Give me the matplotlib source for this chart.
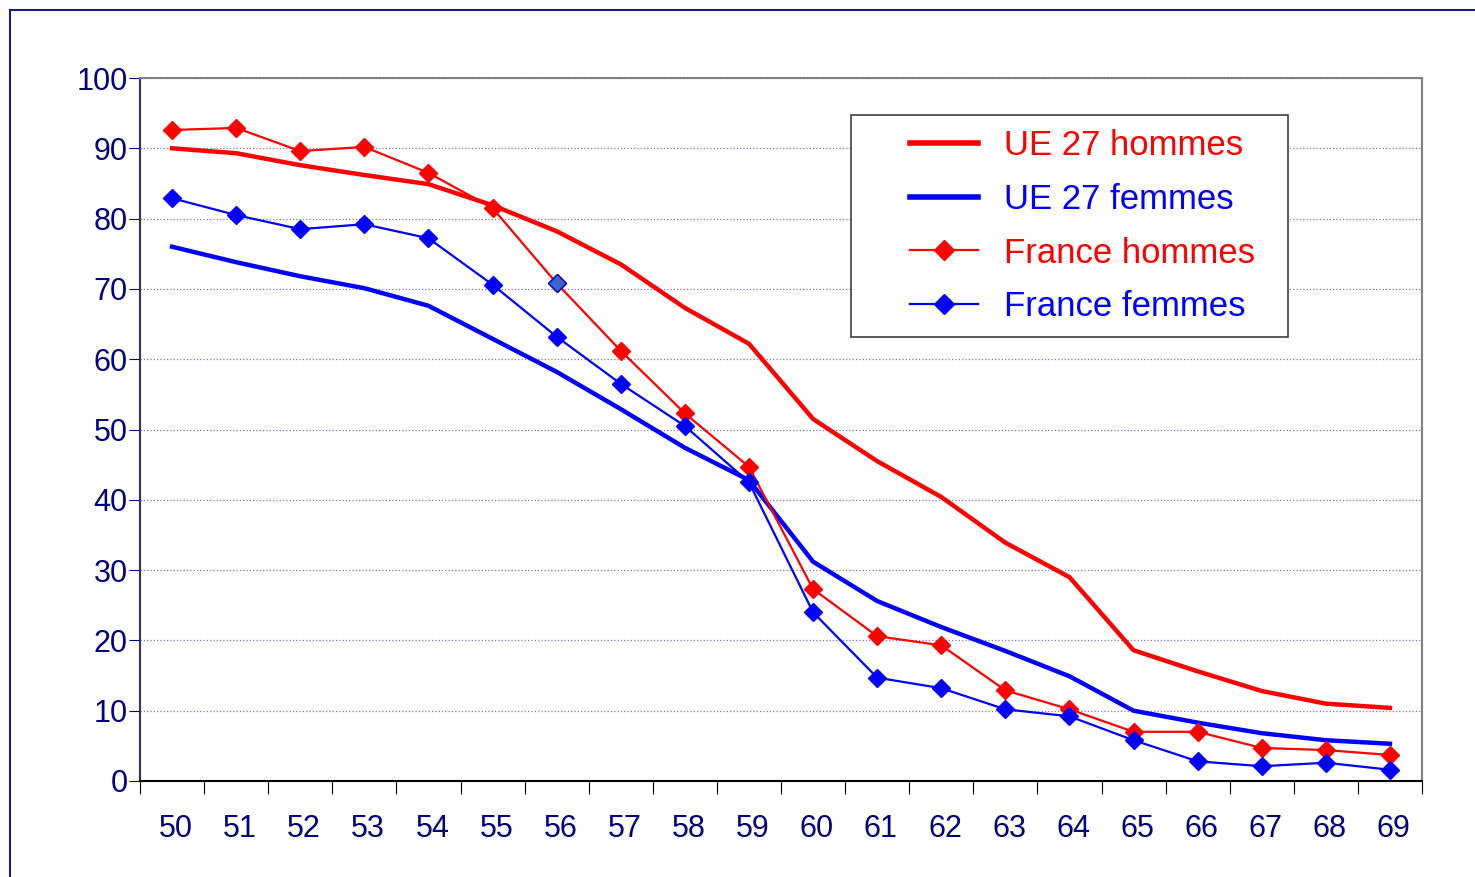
import matplotlib
matplotlib.use('Agg')
import matplotlib.pyplot as plt
from matplotlib.patches import Rectangle
from matplotlib.lines import Line2D
from matplotlib.legend_handler import HandlerLine2D

plt.rcParams['font.family'] = ['Liberation Sans', 'DejaVu Sans']

ages = [50, 51, 52, 53, 54, 55, 56, 57, 58, 59, 60, 61, 62, 63, 64, 65, 66, 67, 68, 69]
ue_hommes = [90.0, 89.3, 87.6, 86.2, 84.9, 81.9, 78.2, 73.5, 67.3, 62.2,
             51.5, 45.5, 40.4, 33.9, 29.0, 18.6, 15.6, 12.8, 11.0, 10.4]
ue_femmes = [76.0, 73.8, 71.8, 70.1, 67.6, 62.9, 58.2, 52.9, 47.4, 42.8,
             31.2, 25.6, 21.9, 18.5, 14.9, 10.0, 8.3, 6.8, 5.8, 5.3]
fr_hommes = [92.6, 92.9, 89.6, 90.2, 86.5, 81.5, 70.8, 61.2, 52.3, 44.7,
             27.3, 20.6, 19.3, 12.9, 10.2, 7.0, 7.0, 4.7, 4.4, 3.7]
fr_femmes = [82.9, 80.5, 78.5, 79.2, 77.2, 70.6, 63.2, 56.5, 50.5, 42.5,
             24.0, 14.7, 13.2, 10.2, 9.2, 5.8, 2.8, 2.1, 2.6, 1.6]
# one France hommes point drawn with a different marker colour in the source
odd_point = 6

RED = '#ff0000'
BLUE = '#0000ff'
NAVY = '#000080'

fig = plt.figure(figsize=(14.75, 8.77), dpi=100)
ax = fig.add_axes([140 / 1475, 96 / 877, 1282 / 1475, 703 / 877])

# outer frame (extends beyond the image on right and bottom)
fig.patches.append(Rectangle((10 / 1475, -0.1), 1.2, 0.1 + (877 - 10) / 877,
                             transform=fig.transFigure, fill=False,
                             edgecolor='#1a1a80', linewidth=1.5))

x = list(range(len(ages)))
ax.plot(x, ue_hommes, color=RED, linewidth=3.2, zorder=3)
ax.plot(x, ue_femmes, color=BLUE, linewidth=3.2, zorder=3)
ax.plot(x, fr_hommes, color=RED, linewidth=1.6, marker='D', markersize=9,
        markeredgecolor=RED, zorder=4)
ax.plot(x, fr_femmes, color=BLUE, linewidth=1.6, marker='D', markersize=9,
        markeredgecolor=BLUE, zorder=4)
ax.plot([x[odd_point]], [fr_hommes[odd_point]], linestyle='none', marker='D',
        markersize=9, markerfacecolor='#3a66cc', markeredgecolor='#0000cc', zorder=5)

ax.set_xlim(-0.5, len(ages) - 0.5)
ax.set_ylim(0, 100)

ax.set_yticks(range(0, 101, 10))
ax.yaxis.grid(True, color='#7878c8', linestyle=':', linewidth=0.9)
ax.set_axisbelow(True)
ax.tick_params(axis='y', direction='out', length=8, color=NAVY,
               labelcolor=NAVY, labelsize=22, pad=1)

ax.set_xticks([i - 0.5 for i in range(len(ages) + 1)])
ax.set_xticklabels([])
ax.set_xticks([i + 0.06 for i in x], minor=True)
ax.set_xticklabels([str(a) for a in ages], minor=True)
ax.tick_params(axis='x', which='major', direction='out', length=9, color='black')
ax.tick_params(axis='x', which='minor', length=0, labelcolor=NAVY,
               labelsize=22, pad=24)

ax.spines['left'].set_color('#303070')
ax.spines['bottom'].set_color('black')
ax.spines['top'].set_color('#808080')
ax.spines['right'].set_color('#808080')
for s in ax.spines.values():
    s.set_linewidth(1.5)

handles = [
    Line2D([], [], color=RED, linewidth=4),
    Line2D([], [], color=BLUE, linewidth=4),
    Line2D([], [], color=RED, linewidth=1.6, marker='D', markersize=10),
    Line2D([], [], color=BLUE, linewidth=1.6, marker='D', markersize=10),
]
labels = ['UE 27 hommes', 'UE 27 femmes', 'France hommes', 'France femmes']
# trailing spaces widen the box on the right like the original
leg = ax.legend(handles, [l + '  ' for l in labels], loc='upper left',
                bbox_to_anchor=((851 - 140) / 1282, (781 - 115) / 703),
                fontsize=25, frameon=True, fancybox=False, framealpha=1,
                edgecolor='#404040', handlelength=3.25, handletextpad=0.75,
                borderpad=0.4, labelspacing=0.6, borderaxespad=0,
                handler_map={Line2D: HandlerLine2D(xpad=1.3, numpoints=1)})
leg.get_frame().set_linewidth(1.2)
for t, c in zip(leg.get_texts(), [RED, BLUE, RED, BLUE]):
    t.set_color(c)

fig.savefig('out.png', dpi=100)
